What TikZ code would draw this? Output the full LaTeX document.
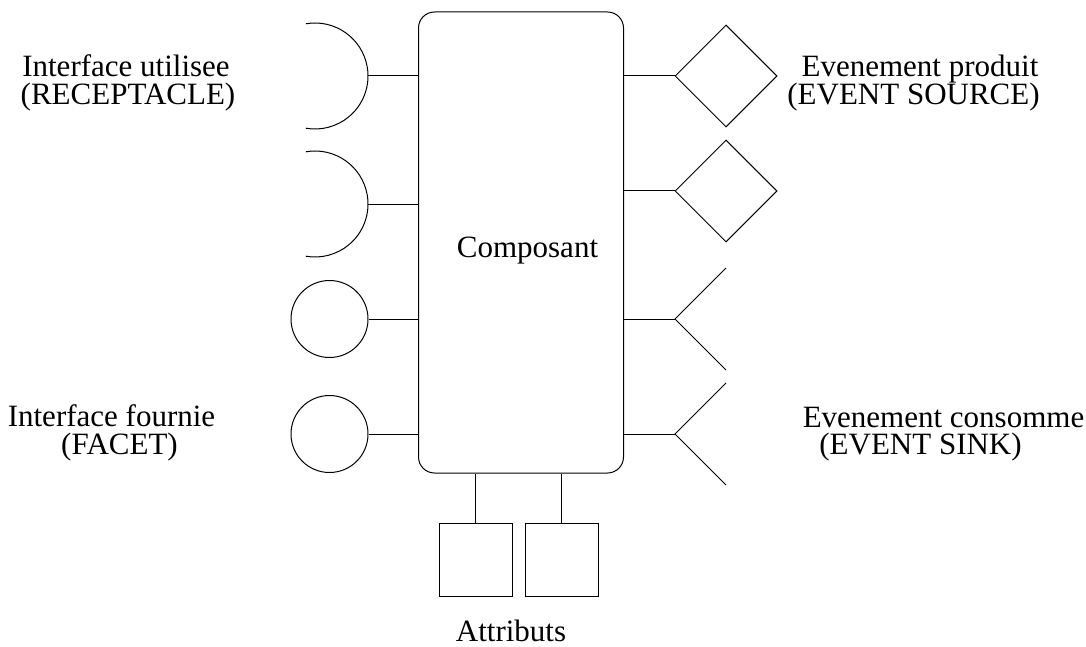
\documentclass[tikz,border=0pt]{standalone}
\usepackage{fontspec}
\setmainfont{Liberation Serif}
\usetikzlibrary{positioning,shapes.geometric}
\tikzset{
  comp/.style   ={draw, rounded corners=16pt, minimum width=205pt, minimum height=461pt,
                  inner sep=0pt},
  facet/.style  ={draw, circle, minimum size=77pt, inner sep=0pt},
  source/.style ={draw, diamond, minimum width=102pt, minimum height=102pt, inner sep=0pt},
  attr/.style   ={draw, rectangle, minimum size=73pt, inner sep=0pt},
  lbl/.style    ={font=\fontsize{31}{28}\selectfont, inner sep=0pt, anchor=base},
  ln/.style     ={draw, line width=1pt},
}
\begin{document}
\begin{tikzpicture}[x=1pt, y=-1pt, line width=1pt]
\useasboundingbox (0,0) rectangle (1086,647);
% component body
\node[comp] (comp) at (521,242.5) {};
\node[lbl] (compname) at (527.5,257) {Composant};
% receptacles
\coordinate (r1) at (368,76);
\coordinate (r2) at (368,204);
\draw (315,76) ++(-100:53) arc[start angle=-100, end angle=100, radius=53];
\draw (315,204) ++(-100:53) arc[start angle=-100, end angle=100, radius=53];
\draw[ln] (r1) -- (r1 -| comp.west); \draw[ln] (r2) -- (r2 -| comp.west);
% facets
\node[facet] (f1) at (329.5,319) {};
\node[facet] (f2) at (329.5,434) {};
\draw[ln] (f1.east) -- (f1.east -| comp.west); \draw[ln] (f2.east) -- (f2.east -| comp.west);
% event sources
\node[source] (d1) at (726,76) {};
\node[source] (d2) at (726,191) {};
\draw[ln] (d1.west) -- (d1.west -| comp.east); \draw[ln] (d2.west) -- (d2.west -| comp.east);
% event sinks
\coordinate (s1) at (675,319);
\coordinate (s2) at (675,434);
\draw (726,268) -- (s1) -- (726,370);
\draw (726,383) -- (s2) -- (726,485);
\draw[ln] (s1) -- (s1 -| comp.east); \draw[ln] (s2) -- (s2 -| comp.east);
% attributes
\node[attr] (a1) at (475.5,559.5) {};
\node[attr, right=12pt of a1] (a2) {};
\draw[ln] (a1.north) -- (a1.north |- comp.south); \draw[ln] (a2.north) -- (a2.north |- comp.south);
% labels
\node[lbl] (recep1) at (126,77) {Interface utilisee};
\node[lbl] (recep2) at (128,105) {(RECEPTACLE)};
\node[lbl] (facet1) at (111.5,426) {Interface fournie};
\node[lbl] (facet2) at (119.5,454) {(FACET)};
\node[lbl] (src1) at (920,77) {Evenement produit};
\node[lbl] (src2) at (913.5,105) {(EVENT SOURCE)};
\node[lbl] (sink1) at (943.5,427) {Evenement consomme};
\node[lbl] (sink2) at (920.5,454) {(EVENT SINK)};
\node[lbl] (attrs) at (511,641) {Attributs};
\end{tikzpicture}
\end{document}
